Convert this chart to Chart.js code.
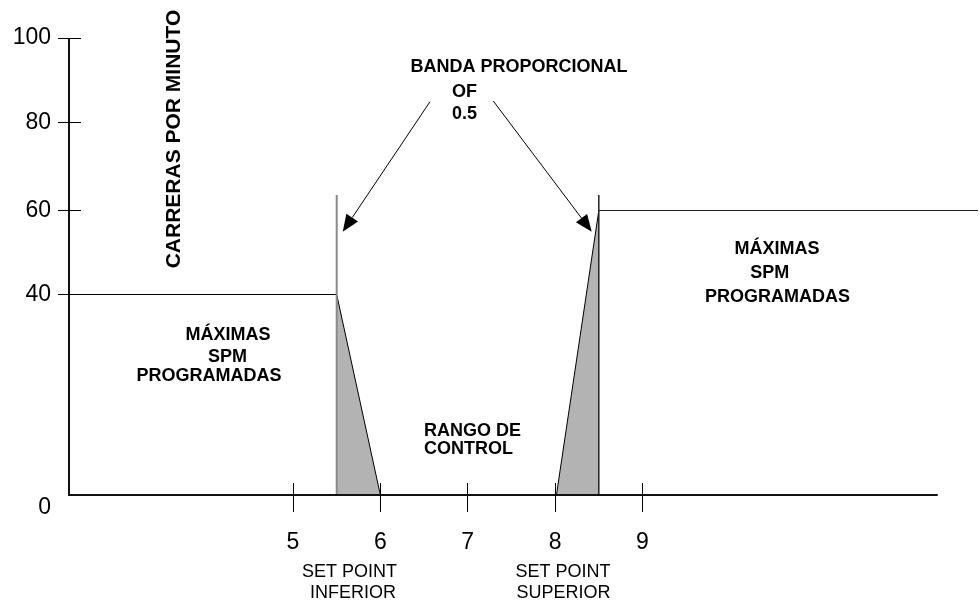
<!DOCTYPE html>
<html>
<head>
<meta charset="utf-8">
<script src="https://cdn.jsdelivr.net/npm/chart.js@4.4.1/dist/chart.umd.min.js"></script>
<style>
html,body{margin:0;padding:0;background:#fff;}
#wrap{width:980px;height:601px;position:relative;}
</style>
</head>
<body>
<div id="wrap"><canvas id="c"></canvas></div>
<script>
// ---- data ----
const xTicks = [5, 6, 7, 8, 9];
const xTickLabels = ['5', '6', '7', '8', '9'];
const yTicks = [0, 40, 60, 80, 100];
const yTickLabels = ['0', '40', '60', '80', '100'];

const lowLevel   = [{x: 2.436, y: 40}, {x: 5.5, y: 40}];
const lowRamp    = [{x: 5.5, y: 40}, {x: 6.0, y: 0}];
const lowMarker  = [{x: 5.5, y: 0}, {x: 5.5, y: 63.5}];
const highRamp   = [{x: 8.015, y: 0}, {x: 8.5, y: 60}];
const highMarker = [{x: 8.5, y: 0}, {x: 8.5, y: 63.5}];
const highLevel  = [{x: 8.5, y: 60}, {x: 12.84, y: 60}];

const arrows = [
  {from: [6.568, 84.92], to: [5.569, 54.95]},
  {from: [7.292, 85.09], to: [8.419, 54.95]}
];

const notes = [
  {text: 'BANDA PROPORCIONAL', x: 7.587, y: 93.14, align: 'center', bold: true, size: 18},
  {text: 'OF', x: 6.82, y: 87.29, align: 'left', bold: true, size: 18},
  {text: '0.5', x: 6.82, y: 82.01, align: 'left', bold: true, size: 18},
  {text: 'MÁXIMAS', x: 4.256, y: 31.98, align: 'center', bold: true, size: 18},
  {text: 'SPM', x: 4.250, y: 27.59, align: 'center', bold: true, size: 18},
  {text: 'PROGRAMADAS', x: 4.038, y: 23.74, align: 'center', bold: true, size: 18},
  {text: 'MÁXIMAS', x: 10.540, y: 50.83, align: 'center', bold: true, size: 18},
  {text: 'SPM', x: 10.456, y: 45.12, align: 'center', bold: true, size: 18},
  {text: 'PROGRAMADAS', x: 10.545, y: 39.56, align: 'center', bold: true, size: 18},
  {text: 'RANGO DE', x: 6.499, y: 12.83, align: 'left', bold: true, size: 18},
  {text: 'CONTROL', x: 6.499, y: 9.12, align: 'left', bold: true, size: 18},
  {text: 'CARRERAS POR MINUTO', x: 3.638, y: 76.25, align: 'center', bold: true, size: 21, rotate: true},
  {text: 'SET POINT', x: 5.647, y: -15.30, align: 'center', bold: false, size: 18},
  {text: 'INFERIOR', x: 5.687, y: -19.61, align: 'center', bold: false, size: 18},
  {text: 'SET POINT', x: 8.090, y: -15.30, align: 'center', bold: false, size: 18},
  {text: 'SUPERIOR', x: 8.096, y: -19.55, align: 'center', bold: false, size: 18}
];

// ---- scale layout (value -> fraction of the axis length) ----
const Y_BREAKS = [[0, 0], [40, 0.43873], [60, 0.62254], [80, 0.81510], [100, 1]];
const X_MIN = 2.436, X_MAX = 12.84, X_AXIS_END = 12.379;
const FONT = '"Liberation Sans", Arial, Helvetica, sans-serif';

// piecewise-linear value axis (schematic, non-uniform spacing)
class PiecewiseScale extends Chart.LinearScale {
  _toFrac(v) {
    const b = Y_BREAKS;
    let i = 0;
    if (v <= b[0][0]) i = 0;
    else if (v >= b[b.length - 1][0]) i = b.length - 2;
    else { while (i < b.length - 2 && v > b[i + 1][0]) i++; }
    const [v0, f0] = b[i], [v1, f1] = b[i + 1];
    return f0 + (v - v0) * (f1 - f0) / (v1 - v0);
  }
  _fromFrac(f) {
    const b = Y_BREAKS;
    let i = 0;
    if (f <= b[0][1]) i = 0;
    else if (f >= b[b.length - 1][1]) i = b.length - 2;
    else { while (i < b.length - 2 && f > b[i + 1][1]) i++; }
    const [v0, f0] = b[i], [v1, f1] = b[i + 1];
    return v0 + (f - f0) * (v1 - v0) / (f1 - f0);
  }
  getPixelForValue(value) {
    return this.getPixelForDecimal(this._toFrac(value));
  }
  getValueForPixel(pixel) {
    return this._fromFrac(this.getDecimalForPixel(pixel));
  }
}
PiecewiseScale.id = 'piecewise';
PiecewiseScale.defaults = {};
Chart.register(PiecewiseScale);

const decor = {
  id: 'decor',
  afterDatasetsDraw(chart) {
    const ctx = chart.ctx;
    const xs = chart.scales.x, ys = chart.scales.y;
    const X = v => xs.getPixelForValue(v);
    const Y = v => ys.getPixelForValue(v);
    const snap = p => Math.round(p - 0.5) + 0.5;
    ctx.save();

    // arrows
    ctx.strokeStyle = '#000';
    ctx.fillStyle = '#000';
    ctx.lineWidth = 1;
    arrows.forEach(a => {
      const x0 = X(a.from[0]), y0 = Y(a.from[1]);
      const x1 = X(a.to[0]), y1 = Y(a.to[1]);
      const ang = Math.atan2(y1 - y0, x1 - x0);
      const L = 17, W = 7;
      const bx = x1 - L * Math.cos(ang), by = y1 - L * Math.sin(ang);
      ctx.beginPath();
      ctx.moveTo(x0, y0);
      ctx.lineTo(bx, by);
      ctx.stroke();
      ctx.beginPath();
      ctx.moveTo(x1, y1);
      ctx.lineTo(bx + W * Math.sin(ang), by - W * Math.cos(ang));
      ctx.lineTo(bx - W * Math.sin(ang), by + W * Math.cos(ang));
      ctx.closePath();
      ctx.fill();
    });

    // axis lines
    const ax = X(X_MIN), ay = Y(0);
    ctx.strokeStyle = '#111';
    ctx.lineWidth = 2;
    ctx.beginPath();
    ctx.moveTo(ax, Y(100));
    ctx.lineTo(ax, ay);
    ctx.lineTo(X(X_AXIS_END), ay);
    ctx.stroke();

    // tick marks
    ctx.strokeStyle = '#000';
    ctx.lineWidth = 1;
    ctx.beginPath();
    yTicks.forEach(v => {
      if (v === 0) return;
      const p = snap(Y(v));
      ctx.moveTo(ax - 11, p); ctx.lineTo(ax + 12, p);
    });
    xTicks.forEach(v => {
      const p = snap(X(v));
      ctx.moveTo(p, ay - 12); ctx.lineTo(p, ay + 17);
    });
    ctx.stroke();

    // tick labels
    ctx.fillStyle = '#000';
    ctx.font = '23px ' + FONT;
    ctx.textBaseline = 'middle';
    ctx.textAlign = 'right';
    yTicks.forEach((v, i) => {
      ctx.fillText(yTickLabels[i], ax - 18, Y(v) + (v === 0 ? 13 : 0));
    });
    ctx.textAlign = 'center';
    xTicks.forEach((v, i) => {
      ctx.fillText(xTickLabels[i], X(v), ay + 48);
    });

    // annotations
    notes.forEach(n => {
      ctx.font = (n.bold ? 'bold ' : '') + n.size + 'px ' + FONT;
      ctx.textAlign = n.align;
      ctx.textBaseline = 'middle';
      const px = X(n.x), py = Y(n.y);
      if (n.rotate) {
        ctx.save();
        ctx.translate(px, py);
        ctx.rotate(-Math.PI / 2);
        ctx.fillText(n.text, 0, 0);
        ctx.restore();
      } else {
        ctx.fillText(n.text, px, py);
      }
    });
    ctx.restore();
  }
};

const lineDs = (data, color, width) => ({
  data, borderColor: color, borderWidth: width, pointRadius: 0, fill: false, tension: 0
});
const rampDs = (data) => ({
  data, borderColor: '#000', borderWidth: 1, pointRadius: 0, tension: 0,
  fill: 'origin', backgroundColor: '#b3b3b3'
});

new Chart(document.getElementById('c'), {
  type: 'line',
  data: {
    datasets: [
      lineDs(lowMarker, '#8a8a8a', 2),
      lineDs(highMarker, '#222', 1.5),
      lineDs(lowLevel, '#000', 1),
      lineDs(highLevel, '#222', 1),
      rampDs(lowRamp),
      rampDs(highRamp)
    ]
  },
  options: {
    responsive: true,
    maintainAspectRatio: false,
    animation: false,
    events: [],
    layout: {padding: {left: 69, top: 38, right: 2, bottom: 106}},
    plugins: {legend: {display: false}, tooltip: {enabled: false}, title: {display: false}},
    scales: {
      x: {type: 'linear', min: X_MIN, max: X_MAX, display: false},
      y: {type: 'piecewise', min: 0, max: 100, display: false}
    }
  },
  plugins: [decor]
});
</script>
</body>
</html>
